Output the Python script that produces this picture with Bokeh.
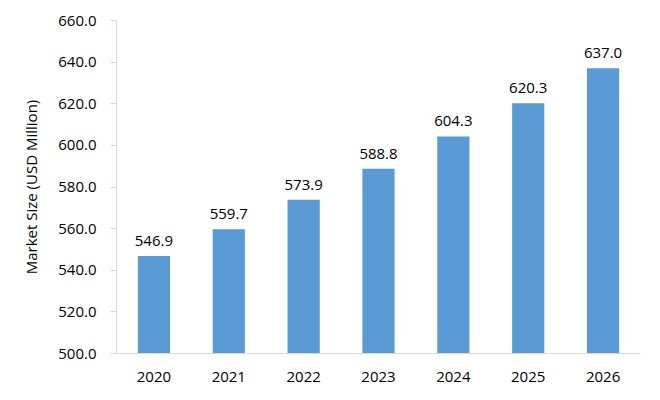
from bokeh.plotting import figure
from bokeh.models import ColumnDataSource, FixedTicker, NumeralTickFormatter, LabelSet
from bokeh.core.properties import value
from bokeh.embed import file_html
from bokeh.resources import INLINE

years = ["2020", "2021", "2022", "2023", "2024", "2025", "2026"]
values = [546.9, 559.7, 573.9, 588.8, 604.3, 620.3, 637.0]
labels = [f"{v:.1f}" for v in values]
y_ticks = [500, 520, 540, 560, 580, 600, 620, 640, 660]

FONT = "Open Sans"

src = ColumnDataSource(data=dict(years=years, values=values, labels=labels))

p = figure(x_range=years, y_range=(500, 660), width=644, height=384,
           output_backend="svg", toolbar_location=None,
           min_border_left=116, min_border_right=4, min_border_top=20, min_border_bottom=29)
p.outline_line_color = None
p.grid.grid_line_color = None
p.background_fill_color = "white"

p.vbar(x="years", top="values", bottom=500, width=0.43, source=src,
       fill_color="#5B9BD5", line_color=None)

p.add_layout(LabelSet(x="years", y="values", text="labels", source=src,
                      text_align="center", text_baseline="bottom", y_offset=10,
                      text_font=value(FONT), text_font_size="15px", text_color="#000000"))

p.yaxis.ticker = FixedTicker(ticks=y_ticks)
p.yaxis.formatter = NumeralTickFormatter(format="0.0")
p.yaxis.axis_label = "Market Size (USD Million)"
p.yaxis.axis_label_text_font = FONT
p.yaxis.axis_label_text_font_style = "normal"
p.yaxis.axis_label_text_font_size = "15px"
p.yaxis.axis_label_text_color = "#000000"
p.yaxis.axis_label_standoff = 14
p.yaxis.major_label_text_font = FONT
p.yaxis.major_label_text_font_size = "15px"
p.yaxis.major_label_text_color = "#000000"
p.yaxis.major_label_standoff = 14
p.yaxis.axis_line_color = "#D9D9D9"
p.yaxis.major_tick_line_color = "#D9D9D9"
p.yaxis.major_tick_out = 6
p.yaxis.major_tick_in = 0
p.yaxis.minor_tick_line_color = None

p.xaxis.axis_line_color = "#D9D9D9"
p.xaxis.major_tick_line_color = None
p.xaxis.minor_tick_line_color = None
p.xaxis.major_label_text_font = FONT
p.xaxis.major_label_text_font_size = "15px"
p.xaxis.major_label_text_color = "#000000"
p.xaxis.major_label_standoff = 12

open("out.html", "w").write(file_html(p, INLINE))
